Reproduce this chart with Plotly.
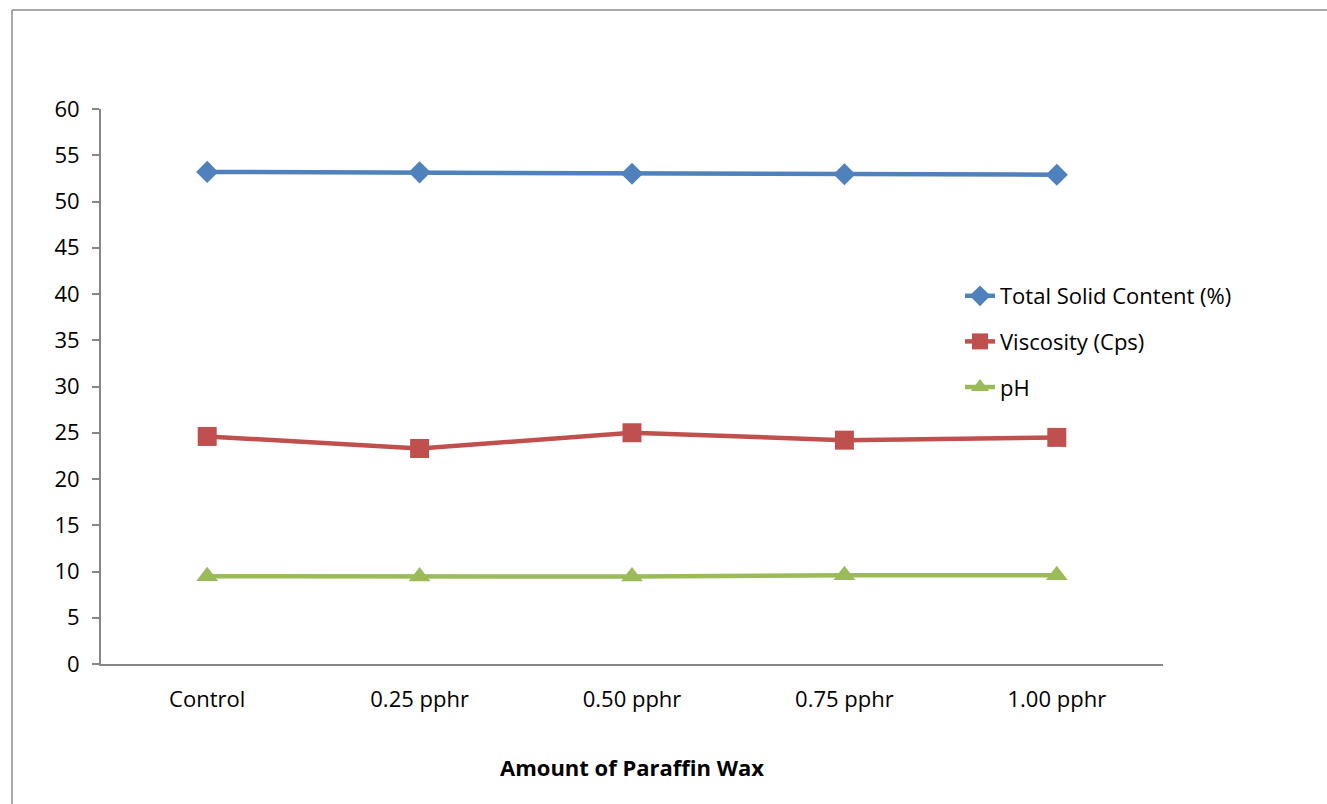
import plotly.graph_objects as go

# Latex compound properties vs. paraffin wax loading
categories = ["Control", "0.25 pphr", "0.50 pphr", "0.75 pphr", "1.00 pphr"]
total_solid = [53.2, 53.15, 53.0, 52.95, 52.9]
viscosity = [24.6, 23.3, 25.0, 24.2, 24.5]
ph = [9.5, 9.45, 9.45, 9.6, 9.6]
y_ticks = [0, 5, 10, 15, 20, 25, 30, 35, 40, 45, 50, 55, 60]

W, H = 1327, 804
L, R, T, B = 101, 164, 109, 140
FONT = "Open Sans, Lato, sans-serif"
FS = 22

series = [
    ("Total Solid Content (%)", total_solid, "#4F81BD", "diamond", 17),
    ("Viscosity (Cps)", viscosity, "#C0504D", "square", 19),
    ("pH", ph, "#9BBB59", "triangle-up", 19),
]

fig = go.Figure()
for i, (name, vals, color, symbol, size) in enumerate(series):
    fig.add_trace(go.Scatter(
        x=categories, y=vals, name=name, mode="lines+markers",
        legendgroup=f"g{i}",
        line=dict(color=color, width=4.5),
        marker=dict(symbol=symbol, size=size, color=color),
    ))

# outer frame of the chart area
pw, ph_ = W - L - R, H - T - B
def px(x):
    return (x - L) / pw
def py(y):
    return (H - B - y) / ph_

frame = dict(color="#8c8c8c", width=1.5)
fig.add_shape(type="line", xref="paper", yref="paper",
              x0=px(12), x1=px(12), y0=py(10), y1=py(H + 5), line=frame)
fig.add_shape(type="line", xref="paper", yref="paper",
              x0=px(12), x1=px(W + 5), y0=py(10), y1=py(10), line=frame)

fig.update_layout(
    width=W, height=H,
    margin=dict(l=L, r=R, t=T, b=B),
    paper_bgcolor="white", plot_bgcolor="white",
    font=dict(family=FONT, size=FS, color="#000000"),
    showlegend=True,
    legend=dict(
        x=px(960), y=py(275), xanchor="left", yanchor="top",
        font=dict(family=FONT, size=FS, color="#000000"),
        traceorder="grouped", tracegroupgap=14,
        bgcolor="rgba(0,0,0,0)", itemwidth=30,
    ),
    xaxis=dict(
        type="category", range=[-0.5, 4.5],
        showline=True, linecolor="#868686", linewidth=2,
        showgrid=False, zeroline=False,
        ticks="outside", ticklen=15, tickcolor="rgba(0,0,0,0)",
        tickfont=dict(family=FONT, size=FS, color="#000000"),
        title=dict(text="<b>Amount of Paraffin Wax</b>", standoff=48,
                   font=dict(family=FONT, size=FS, color="#000000")),
    ),
    yaxis=dict(
        range=[0, 60], tickvals=y_ticks,
        showline=True, linecolor="#868686", linewidth=2,
        showgrid=False, zeroline=False,
        ticks="outside", ticklen=7, tickcolor="#868686", tickwidth=1.5,
        ticklabelstandoff=8,
        tickfont=dict(family=FONT, size=FS, color="#000000"),
    ),
)

fig.write_html("out.html")
